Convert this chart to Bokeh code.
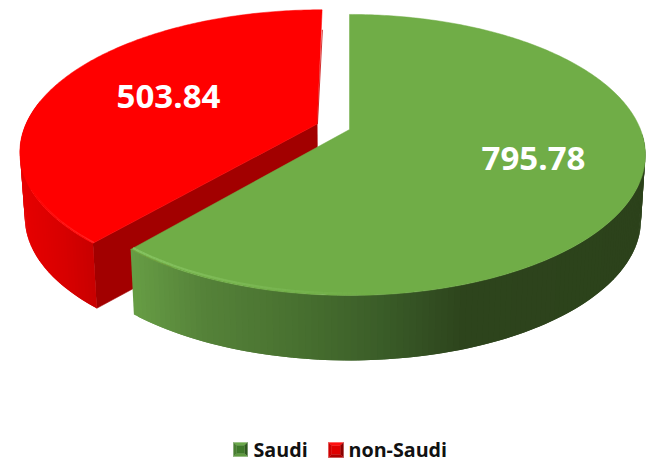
import numpy as np
from bokeh.plotting import figure
from bokeh.models import Range1d
from bokeh.core.properties import value
from bokeh.embed import file_html
from bokeh.resources import INLINE

categories = ["Saudi", "non-Saudi"]
values = [795.78, 503.84]
labels = ["795.78", "503.84"]

# projection of the pie (screen pixels of the reference)
CX, CY, A, B, K = 349.0, 129.0, 291.0, 135.9, 0.181
DEPTH, SHRINK = 65.0, 0.985
RED_OFFSET = (-0.112, 0.04)
RED_R = 1.008


def top(theta, r=1.0, off=(0.0, 0.0)):
    u = off[0] + r * np.cos(theta)
    v = off[1] + r * np.sin(theta)
    w = 1 + K * v
    return CX + A * u / w, CY - B * v / w


def bottom(theta, r=1.0, off=(0.0, 0.0)):
    x, y = top(theta, r, off)
    return CX + (x - CX) * SHRINK, y + DEPTH


def hexmix(stops, x):
    xs = [s[0] for s in stops]
    ch = [np.interp(x, xs, [s[1][i] for s in stops]) for i in range(3)]
    return "#%02x%02x%02x" % tuple(int(round(c)) for c in ch)


GREEN_STOPS = [(131, (0x66, 0x9c, 0x44)), (200, (0x55, 0x82, 0x39)), (300, (0x47, 0x6f, 0x2f)),
               (380, (0x3a, 0x5c, 0x28)), (460, (0x2d, 0x44, 0x1c)), (650, (0x2c, 0x42, 0x1b))]
RED_STOPS = [(15, (0xe8, 0, 0)), (60, (0xd8, 0, 0)), (90, (0xc8, 0, 0)), (100, (0xd4, 0, 0))]

total = sum(values)
sweep_green = 2 * np.pi * values[0] / total
start = np.pi / 2
split = start - sweep_green  # boundary between the slices
red_end = split + 2 * np.pi

p = figure(width=654, height=462, x_range=Range1d(0, 654), y_range=Range1d(462, 0),
           output_backend="svg", toolbar_location=None, min_border=0, outline_line_color=None)
p.axis.visible = False
p.grid.visible = False
p.background_fill_color = "white"
p.border_fill_color = "white"


def strips(t0, t1, stops, r=1.0, off=(0.0, 0.0), n=120):
    th = np.linspace(t0, t1, n + 1)
    xs, ys, cs = [], [], []
    for i in range(n):
        a, b = th[i], th[min(i + 2, n)]
        xa, ya = top(a, r, off)
        xb, yb = top(b, r, off)
        xc, yc = bottom(b, r, off)
        xd, yd = bottom(a, r, off)
        xs.append([xa, xb, xc, xd])
        ys.append([ya, yb, yc, yd])
        xm, _ = top(th[i], r, off)
        cs.append(hexmix(stops, xm))
    p.patches(xs, ys, fill_color=cs, line_color=None)


# red slice: cut face, side, top
xa0, ya0 = top(0.0, 0.0, RED_OFFSET)
xa1, ya1 = bottom(0.0, 0.0, RED_OFFSET)
xc0, yc0 = top(split, RED_R, RED_OFFSET)
xc1, yc1 = bottom(split, RED_R, RED_OFFSET)
p.patch([xa0, xc0, xc1, xa1], [ya0, yc0, yc1, ya1], fill_color="#a20000", line_color="#a20000", line_width=0.6)
strips(np.radians(170), red_end, RED_STOPS, RED_R, RED_OFFSET, n=60)
th = np.linspace(start, red_end, 200)
x, y = top(th, RED_R, RED_OFFSET)
p.patch(np.r_[xa0, x], np.r_[ya0, y], fill_color="#ff0000", line_color="#ff0000", line_width=0.5)
# thin dark seam on the back cut edge
xt, yt = top(start, RED_R, RED_OFFSET)
p.line([xt + 0.3, xa0 + 0.3], [yt + 20, ya0], line_color="#c80000", line_width=0.8)

# green slice: side, top, bevel highlight
strips(split, np.radians(-2), GREEN_STOPS)
th = np.linspace(start, split, 300)
x, y = top(th)
xa, ya = top(0.0, 0.0)
p.patch(np.r_[xa, x], np.r_[ya, y], fill_color="#70ad47", line_color="#70ad47", line_width=0.5)

th = np.linspace(split, np.radians(-85), 60)
for a, b, f in zip(th[:-1], th[1:], np.linspace(1, 0, 59)):
    x, y = top(np.array([a, b]), 0.99)
    p.line(x, y, line_color="#8ac765", line_width=2.2, line_alpha=float(0.85 * f))

# red bevel near the corner
th = np.linspace(np.radians(205), red_end, 30)
for a, b, f in zip(th[:-1], th[1:], np.linspace(0, 1, 29)):
    x, y = top(np.array([a, b]), RED_R - 0.005, RED_OFFSET)
    p.line(x, y, line_color="#ff4040", line_width=1.2, line_alpha=float(0.6 * f))

# data labels
p.text([533, 168], [158, 96], text=labels, text_color="white", text_font=value("Open Sans"),
       text_font_style="bold", text_font_size="33px", text_align="center", text_baseline="middle")


# legend
def swatch(x0, y0, s, cols):
    i = s * 0.22
    corners = [(x0, y0), (x0 + s, y0), (x0 + s, y0 + s), (x0, y0 + s)]
    inner = [(x0 + i, y0 + i), (x0 + s - i, y0 + i), (x0 + s - i, y0 + s - i), (x0 + i, y0 + s - i)]
    for k in range(4):
        a, b = corners[k], corners[(k + 1) % 4]
        c, d = inner[(k + 1) % 4], inner[k]
        p.patch([a[0], b[0], c[0], d[0]], [a[1], b[1], c[1], d[1]], fill_color=cols[k], line_color=cols[k], line_width=0.3)
    p.patch([q[0] for q in inner], [q[1] for q in inner], fill_color=cols[4], line_color=cols[4], line_width=0.3)


swatch(233, 442, 14, ["#6aa84a", "#2f5a20", "#5f9a40", "#4a7f33", "#3f7a2a"])
swatch(328, 442, 15, ["#ff1010", "#8a0000", "#b00000", "#d00000", "#e00000"])
p.text([253, 348], [449, 449], text=categories, text_color="#111111", text_font=value("Open Sans"),
       text_font_style="bold", text_font_size="19.7px", text_align="left", text_baseline="middle")

open("out.html", "w").write(file_html(p, INLINE))
